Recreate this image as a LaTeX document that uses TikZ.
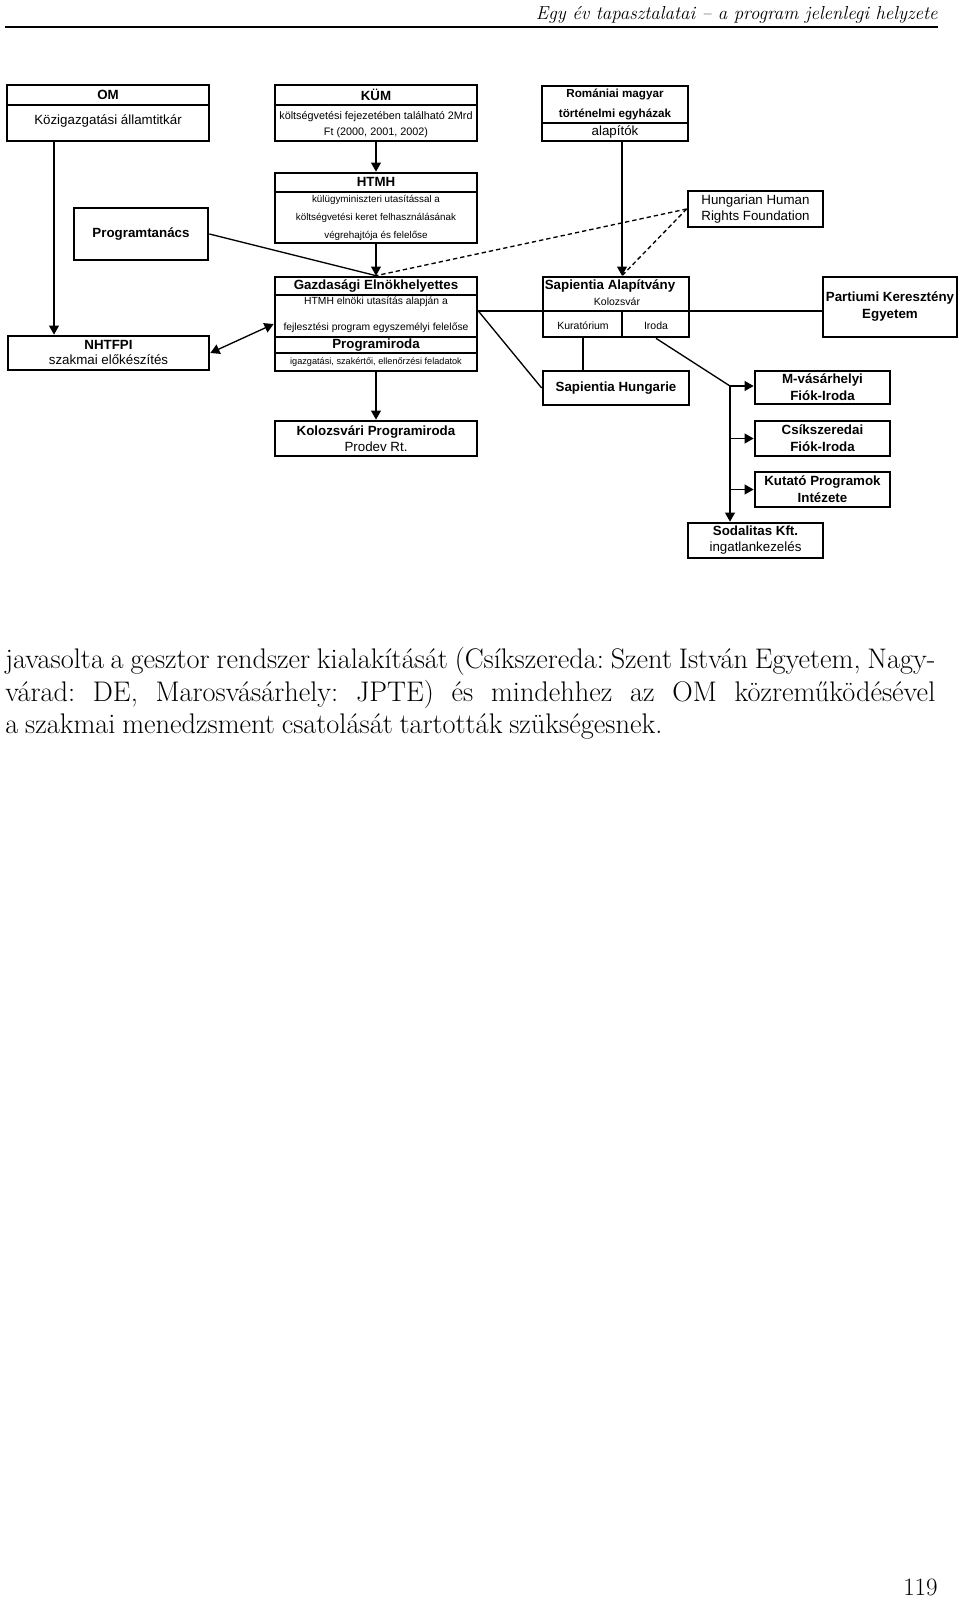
\documentclass[tikz,border=0pt]{standalone}
\usepackage{fontspec}
\newfontfamily\arial{Liberation Sans}
\usepackage{tikz}
\usetikzlibrary{arrows.meta, positioning}

\begin{document}
\begin{tikzpicture}[
        x=0.6pt, y=-0.6pt,
        box/.style={draw, line width=1.6pt, inner sep=0pt, align=center},
        sz/.style 2 args={minimum width=#1*0.6pt, minimum height=#2*0.6pt},
        hd/.style={inner sep=0pt, align=center, font=\arial\bfseries\fontsize{8}{10.2}\selectfont},
        txt/.style={inner sep=0pt, align=center, font=\arial\fontsize{8}{9.6}\selectfont},
        sm/.style={inner sep=0pt, align=center, font=\arial\fontsize{6.2}{10.8}\selectfont},
        xs/.style={inner sep=0pt, font=\arial\fontsize{5.5}{6.6}\selectfont},
        rule/.style={line width=0.7pt},
        wire/.style={line width=0.8pt},
        arr/.style={wire, -{Triangle[length=5.5pt, width=6pt]}},
        both/.style={wire, {Triangle[length=5.5pt, width=6pt]}-{Triangle[length=5.5pt, width=6pt]}},
        hint/.style={wire, dash pattern=on 2.6pt off 1.8pt}
    ]
        \path[use as bounding box, fill=white] (0,0) rectangle (960,1602);

        % Running head
        \node[anchor=base east, inner sep=0pt, font=\itshape\fontsize{11.3}{13}\selectfont] (runhead) at (938,19) {Egy év tapasztalatai – a program jelenlegi helyzete};
        \draw[line width=1.2pt] (5,27) -- (runhead.east |- 0,27);

        % Top row
        \node[box, sz={202}{56}] (om) at (108,113) {};
        \draw[rule] (om.west |- 0,105) -- (om.east |- 0,105);
        \node[hd] (omhd) at (108,95) {OM};
        \node[txt] (omtx) at (108,121) {Közigazgatási államtitkár};

        \node[box, sz={202}{56}] (kum) at (376,113) {};
        \draw[rule] (kum.west |- 0,105) -- (kum.east |- 0,105);
        \node[hd] (kumhd) at (376,95) {KÜM};
        \node[sm, font=\arial\fontsize{6.5}{9.6}\selectfont] (kumtx) at (376,125) {költségvetési fejezetében található 2Mrd\\Ft (2000, 2001, 2002)};

        \node[box, sz={146}{55}] (rom) at (615,113.5) {};
        \draw[rule] (rom.west |- 0,123) -- (rom.east |- 0,123);
        \node[hd, font=\arial\bfseries\fontsize{7}{12}\selectfont] (romhd) at (615,104) {Romániai magyar\\történelmi egyházak};
        \node[txt] (romtx) at (615,132) {alapítók};

        % Second row
        \node[box, hd, sz={134}{52}] (prog) at (141,234) {Programtanács};

        \node[box, sz={202}{70}] (htmh) at (376,208) {};
        \draw[rule] (htmh.west |- 0,192) -- (htmh.east |- 0,192);
        \node[hd] (htmhhd) at (376,182) {HTMH};
        \node[sm, font=\arial\fontsize{5.9}{10.8}\selectfont] (htmhtx) at (376,218) {külügyminiszteri utasítással a\\költségvetési keret felhasználásának\\végrehajtója és felelőse};

        \node[box, txt, sz={135}{36}] (hhrf) at (755.5,209) {Hungarian Human\\Rights Foundation};

        % Third row
        \node[box, sz={201}{34}] (nhtfpi) at (108.5,353) {};
        \node[txt, font=\arial\fontsize{8}{9}\selectfont] (nhtfpitx) at (108.5,352) {\textbf{NHTFPI}\\szakmai előkészítés};

        \node[box, sz={202}{94}] (gazd) at (376,324) {};
        \draw[rule] (gazd.west |- 0,295) -- (gazd.east |- 0,295);
        \draw[rule] (gazd.west |- 0,337) -- (gazd.east |- 0,337);
        \draw[rule] (gazd.west |- 0,353) -- (gazd.east |- 0,353);
        \node[hd] (gazdhd) at (376,286) {Gazdasági Elnökhelyettes};
        \node[sm, font=\arial\fontsize{6.2}{7.4}\selectfont] (gazdtx) at (376,302) {HTMH elnöki utasítás alapján a};
        \node[sm, font=\arial\fontsize{6.2}{7.4}\selectfont] (gazdtxb) at (376,328) {fejlesztési program egyszemélyi felelőse};
        \node[hd] (pirhd) at (376,345) {Programiroda};
        \node[xs] (pirtx) at (376,362) {igazgatási, szakértői, ellenőrzési feladatok};

        \node[box, sz={146}{60}] (sapa) at (616,307) {};
        \coordinate (sapdiv) at (622,311);
        \draw[rule] (sapa.west |- sapdiv) -- (sapa.east |- sapdiv);
        \draw[rule] (sapdiv) -- (sapdiv |- sapa.south);
        \node[hd] (sapahd) at (610,286) {Sapientia Alapítvány};
        \node[sm, font=\arial\fontsize{6.3}{7.5}\selectfont] (sapatx) at (617,302) {Kolozsvár};
        \node[sm, font=\arial\fontsize{6.3}{7.5}\selectfont] (kur) at (583,326) {Kuratórium};
        \node[sm, font=\arial\fontsize{6.3}{7.5}\selectfont] (iroda) at (656,326) {Iroda};

        \node[box, hd, sz={134}{60}] (partium) at (890,307) {Partiumi Keresztény\\Egyetem};

        % Lower boxes
        \node[box, hd, sz={146}{34}] (saphu) at (616,388) {Sapientia Hungarie};
        \node[box, hd, sz={135}{33}] (mvas) at (822.5,387.5) {M-vásárhelyi\\Fiók-Iroda};
        \node[box, hd, sz={135}{35}] (csik) at (822.5,438.5) {Csíkszeredai\\Fiók-Iroda};
        \node[box, hd, sz={135}{35}] (kutato) at (822.5,489.5) {Kutató Programok\\Intézete};
        \node[box, txt, sz={135}{35}] (sodal) at (755.5,540.5) {\textbf{Sodalitas Kft.}\\ingatlankezelés};
        \node[box, txt, sz={202}{35}] (kolozs) at (376,438.5) {\textbf{Kolozsvári Programiroda}\\Prodev Rt.};

        % Connectors
        \coordinate (omx) at (54,0);
        \coordinate (romx) at (622,0);
        \coordinate (br) at (730,386);
        \draw[arr] (om.south -| omx) -- (nhtfpi.north -| omx);
        \draw[arr] (kum.south) -- (htmh.north);
        \draw[arr] (htmh.south) -- (gazd.north);
        \draw[wire] (prog.east) -- (gazd.north);
        \draw[hint] (hhrf.west) -- (gazd.north);
        \draw[hint] (hhrf.west) -- (sapa.north -| romx);
        \draw[arr] (rom.south -| romx) -- (sapa.north -| romx);
        \draw[both] (nhtfpi.east) -- (gazd.west);
        \draw[arr] (gazd.south) -- (kolozs.north);
        \draw[wire] (gazd.east |- sapdiv) -- (sapa.west |- sapdiv);
        \draw[wire] (sapa.east |- sapdiv) -- (partium.west |- sapdiv);
        \draw[wire] (gazd.east |- sapdiv) -- (saphu.west);
        \draw[wire] (sapa.south -| kur) -- (saphu.north -| kur);
        \draw[wire] (sapa.south -| iroda) -- (br);
        \draw[arr] (br) -- (br -| mvas.west);
        \draw[arr] (br |- csik.west) -- (csik.west);
        \draw[arr] (br |- kutato.west) -- (kutato.west);
        \draw[arr] (br) -- (br |- sodal.north);

        % Body text
        \node[anchor=north west, inner sep=0pt, text width=558pt, align=justify, font=\fontsize{17}{19.6}\selectfont] (para) at (5,647) {\frenchspacing\spaceskip=0.24em plus 0.5em minus 0.04em javasolta a gesztor rendszer kialakítását (Csíkszereda: Szent István Egyetem, Nagy-\linebreak várad: DE, Marosvásárhely: JPTE) és mindehhez az OM közreműködésével\linebreak a szakmai menedzsment csatolását tartották szükségesnek.};

        % Page number
        \node[anchor=base east, inner sep=0pt, font=\fontsize{15}{18}\selectfont] (pageno) at (938,1595) {119};
    \end{tikzpicture}
\end{document}
